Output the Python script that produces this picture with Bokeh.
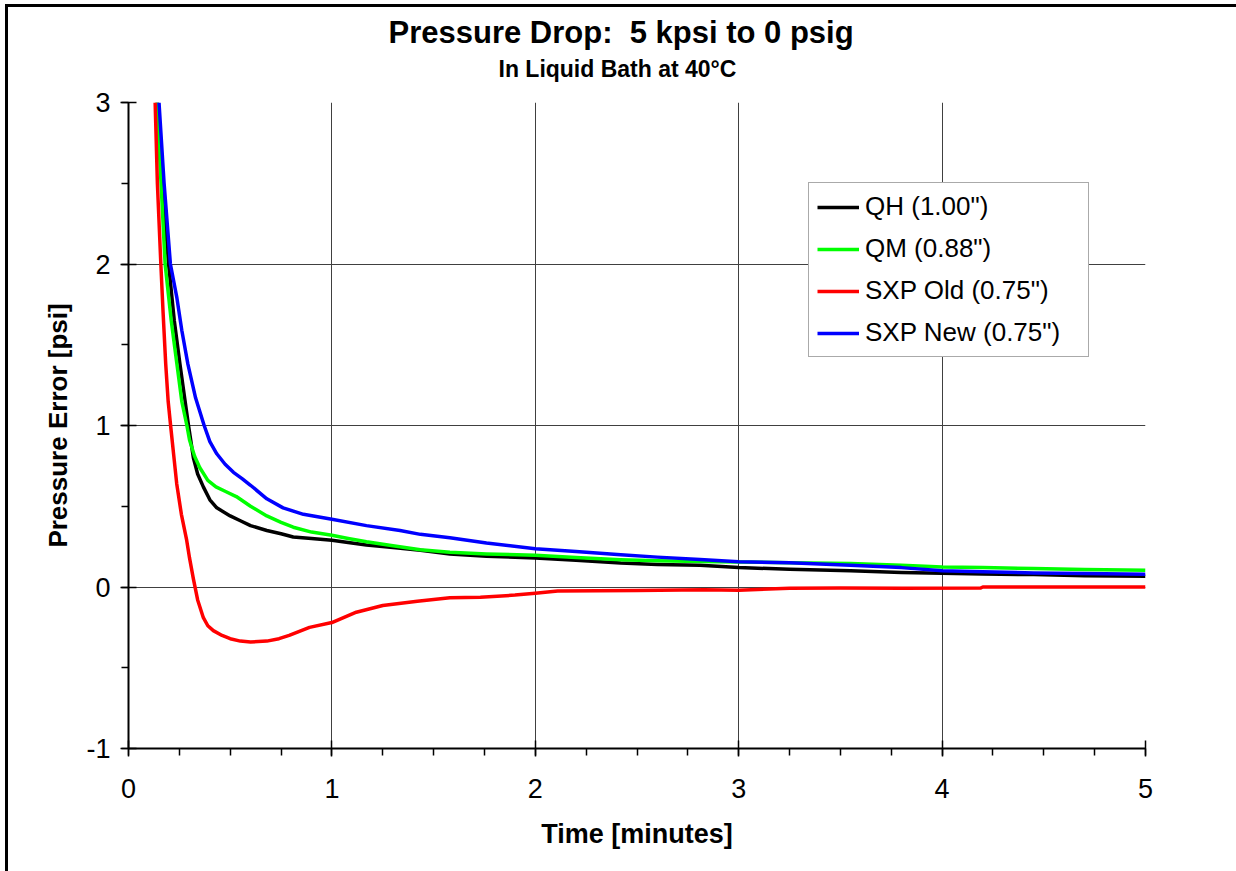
from bokeh.plotting import figure
from bokeh.models import Range1d, SingleIntervalTicker, Legend, LegendItem, Title
from bokeh.embed import file_html
from bokeh.resources import INLINE

# ---- data ----
qh_x = [0.142, 0.167, 0.197, 0.225, 0.253, 0.275, 0.295, 0.319, 0.340, 0.368, 0.400, 0.434,
        0.500, 0.550, 0.600, 0.680, 0.750, 0.810, 0.900, 1.000, 1.080, 1.170, 1.300, 1.435,
        1.580, 1.760, 2.000, 2.200, 2.420, 2.600, 2.810, 3.000, 3.250, 3.550, 3.800, 4.000,
        4.200, 4.450, 4.700, 5.000]
qh_y = [3.00, 2.50, 2.00, 1.65, 1.38, 1.18, 1.00, 0.80, 0.70, 0.62, 0.54, 0.49,
        0.44, 0.41, 0.38, 0.35, 0.33, 0.31, 0.30, 0.29, 0.275, 0.26, 0.245, 0.227,
        0.205, 0.19, 0.18, 0.165, 0.148, 0.14, 0.135, 0.12, 0.11, 0.10, 0.09, 0.085,
        0.08, 0.077, 0.07, 0.066]

qm_x = [0.139, 0.160, 0.180, 0.210, 0.238, 0.262, 0.287, 0.300, 0.325, 0.350, 0.390, 0.430,
        0.480, 0.530, 0.600, 0.680, 0.750, 0.810, 0.900, 1.000, 1.080, 1.170, 1.300, 1.435,
        1.580, 1.760, 2.000, 2.200, 2.420, 2.600, 2.810, 3.000, 3.250, 3.550, 3.800, 4.000,
        4.200, 4.450, 4.700, 5.000]
qm_y = [3.00, 2.50, 2.00, 1.65, 1.38, 1.15, 1.00, 0.91, 0.81, 0.74, 0.66, 0.62,
        0.59, 0.56, 0.50, 0.44, 0.40, 0.37, 0.34, 0.32, 0.30, 0.28, 0.255, 0.231,
        0.215, 0.205, 0.196, 0.183, 0.169, 0.162, 0.158, 0.155, 0.15, 0.145, 0.134, 0.124,
        0.12, 0.114, 0.108, 0.103]

old_x = [0.131, 0.142, 0.159, 0.170, 0.183, 0.195, 0.207, 0.222, 0.237, 0.260, 0.286, 0.300,
         0.319, 0.340, 0.368, 0.390, 0.417, 0.460, 0.500, 0.550, 0.600, 0.680, 0.740, 0.790,
         0.890, 1.000, 1.120, 1.250, 1.420, 1.580, 1.730, 1.900, 2.000, 2.110, 2.500, 2.830,
         3.000, 3.250, 3.500, 3.800, 4.190, 4.200, 4.600, 5.000]
old_y = [3.00, 2.50, 2.00, 1.70, 1.38, 1.15, 1.00, 0.82, 0.64, 0.45, 0.29, 0.18,
         0.05, -0.08, -0.19, -0.24, -0.27, -0.30, -0.32, -0.335, -0.34, -0.335, -0.32, -0.30,
         -0.25, -0.22, -0.156, -0.115, -0.088, -0.067, -0.064, -0.05, -0.038, -0.025, -0.022, -0.017,
         -0.02, -0.008, -0.006, -0.008, -0.006, 0.0, 0.0, 0.0]

new_x = [0.150, 0.175, 0.206, 0.238, 0.262, 0.292, 0.330, 0.372, 0.400, 0.434, 0.475, 0.516,
         0.560, 0.600, 0.680, 0.760, 0.860, 1.000, 1.170, 1.335, 1.435, 1.580, 1.760, 2.000,
         2.200, 2.420, 2.600, 2.810, 3.000, 3.250, 3.550, 3.800, 4.000, 4.200, 4.450, 4.700,
         5.000]
new_y = [3.00, 2.50, 2.00, 1.79, 1.59, 1.38, 1.17, 1.00, 0.90, 0.825, 0.76, 0.71,
         0.67, 0.63, 0.546, 0.49, 0.45, 0.42, 0.38, 0.35, 0.326, 0.305, 0.272, 0.237,
         0.22, 0.200, 0.185, 0.170, 0.157, 0.15, 0.134, 0.12, 0.10, 0.095, 0.087, 0.083,
         0.079]

series_names = ['QH (1.00")', 'QM (0.88")', 'SXP Old (0.75")', 'SXP New (0.75")']
series_colors = ["#000000", "#00ff00", "#ff0000", "#0000ff"]

x_ticks = [0, 1, 2, 3, 4, 5]
y_ticks = [-1, 0, 1, 2, 3]
y_tick_labels = {-1: "-1", 0: "0", 1: "1", 2: "2", 3: "3"}

title_text = "Pressure Drop: \u00a05 kpsi to 0 psig"
subtitle_text = "In Liquid Bath at 40°C"

FONT = "Liberation Sans"

p = figure(width=1228, height=864, output_backend="svg", toolbar_location=None,
           x_range=Range1d(0, 5), y_range=Range1d(-1, 3), title=None)
p.min_border_left = 120
p.min_border_right = 91
p.min_border_top = 95
p.min_border_bottom = 123
p.outline_line_color = None
p.background_fill_color = "white"
p.border_fill_color = "white"
p.styles = {"margin-left": "8px", "margin-top": "7px", "outline": "3px solid black",
            "overflow": "hidden"}

# titles
sub = Title(text=subtitle_text, align="left", offset=370,
            text_font=FONT, text_font_size="23px", text_font_style="bold",
            text_color="black", standoff=42)
main = Title(text=title_text, align="left", offset=260,
             text_font=FONT, text_font_size="31px", text_font_style="bold",
             text_color="black", standoff=-34)
p.add_layout(sub, "above")
p.add_layout(main, "above")

# axes
p.xaxis.ticker = SingleIntervalTicker(interval=1, num_minor_ticks=4)
p.yaxis.ticker = SingleIntervalTicker(interval=1, num_minor_ticks=2)
p.xgrid.ticker = SingleIntervalTicker(interval=1)
p.ygrid.ticker = SingleIntervalTicker(interval=1)
p.yaxis.major_label_overrides = y_tick_labels
for ax in (p.xaxis[0], p.yaxis[0]):
    ax.axis_line_color = "black"
    ax.axis_line_width = 2
    ax.major_tick_line_color = "black"
    ax.major_tick_line_width = 1.5
    ax.minor_tick_line_color = "black"
    ax.minor_tick_line_width = 1.5
    ax.major_tick_in = 8
    ax.major_tick_out = 8
    ax.minor_tick_in = 0
    ax.minor_tick_out = 7
    ax.major_label_text_font = FONT
    ax.major_label_text_font_size = "27px"
    ax.major_label_text_color = "black"
    ax.axis_label_text_font = FONT
    ax.axis_label_text_font_style = "bold"
    ax.axis_label_text_color = "black"
p.xaxis.axis_label = "Time [minutes]"
p.yaxis.axis_label = "Pressure Error [psi]"
p.xaxis.axis_label_text_font_size = "27px"
p.yaxis.axis_label_text_font_size = "26px"
p.xaxis.major_label_standoff = 22
p.yaxis.major_label_standoff = 10
p.xaxis.axis_label_standoff = 18
p.yaxis.axis_label_standoff = 10

for g in (p.xgrid[0], p.ygrid[0]):
    g.grid_line_color = "#404040"
    g.grid_line_width = 1

xs = [qh_x, qm_x, old_x, new_x]
ys = [qh_y, qm_y, old_y, new_y]
items = []
for x, y, name, c in zip(xs, ys, series_names, series_colors):
    r = p.line(x, y, line_color=c, line_width=3.5, line_join="round")
    items.append(LegendItem(label=name, renderers=[r]))

legend = Legend(items=items, location=(680, 391))
legend.label_text_font = FONT
legend.label_text_font_size = "26px"
legend.label_text_color = "black"
legend.glyph_width = 42
legend.glyph_height = 30
legend.label_height = 30
legend.label_width = 215
legend.label_standoff = 6
legend.spacing = 11
legend.padding = 8
legend.margin = 0
legend.border_line_color = "#555555"
legend.border_line_width = 1.5
legend.background_fill_color = "white"
legend.background_fill_alpha = 1.0
p.add_layout(legend, "center")

open("out.html", "w").write(file_html(p, INLINE))
